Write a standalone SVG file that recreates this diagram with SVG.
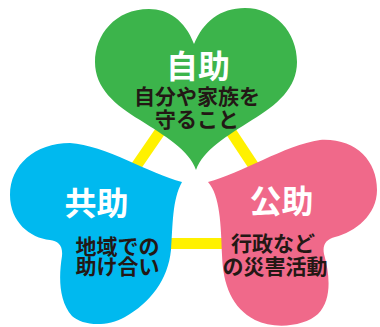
<svg xmlns="http://www.w3.org/2000/svg" width="380" height="327" viewBox="0 0 380 327">
<style>
.link{stroke:#fff100;stroke-width:11;fill:none}
.title{font-family:"Noto Sans CJK JP","Noto Sans",sans-serif;font-weight:bold;font-size:32px;fill:#ffffff;text-anchor:middle}
.sub{font-family:"Noto Sans CJK JP","Noto Sans",sans-serif;font-weight:bold;font-size:21px;fill:#231815;text-anchor:middle}
</style>
<rect width="380" height="327" fill="#ffffff"/>
<g id="connectors">
<line class="link" x1="190" y1="88" x2="83" y2="243.5"/>
<line class="link" x1="202" y1="88" x2="305" y2="243.5"/>
<line class="link" x1="83" y1="243.5" x2="305" y2="243.5"/>
</g>
<g id="self-help">
<path fill="#3cb44b" d="M194,44 C185,20 168,9 149,9 C115,9 95,35 95,62 C95,88 115,105 140,120 C165,136 189,150 196,170 C203,150 227,136 252,120 C277,105 297,88 297,62 C297,32 275,8 245,8 C220,8 203,22 194,44 Z"/>
<text class="title" x="198" y="78">自助</text>
<text class="sub" x="197" y="103.5">自分や家族を</text>
<text class="sub" x="197" y="126.5">守ること</text>
</g>
<g id="mutual-help">
<path fill="#00b9ef" d="M182,182 C150,174 105,145 70,143 C35,143 10,165 10,195 C10,222 30,238 50,240 C58,241 63,245 62,256 C59,275 58,300 72,316 C82,325 105,328 125,317 C150,303 168,280 171,250 C173,225 172,200 182,182 Z"/>
<text class="title" x="96.5" y="215">共助</text>
<text class="sub" x="117.5" y="253.5">地域での</text>
<text class="sub" x="117.5" y="274">助け合い</text>
</g>
<g id="public-help">
<path fill="#f0698a" d="M208,182 C240,174 285,145 320,140 C355,138 377,160 377,190 C377,215 355,232 335,237 C327,239 322,244 324,254 C330,275 332,300 318,314 C305,326 275,330 255,320 C232,308 223,285 222,255 C221,225 220,195 208,182 Z"/>
<text class="title" x="281.5" y="213">公助</text>
<text class="sub" x="273" y="251">行政など</text>
<text class="sub" x="275" y="273.5">の災害活動</text>
</g>
</svg>
